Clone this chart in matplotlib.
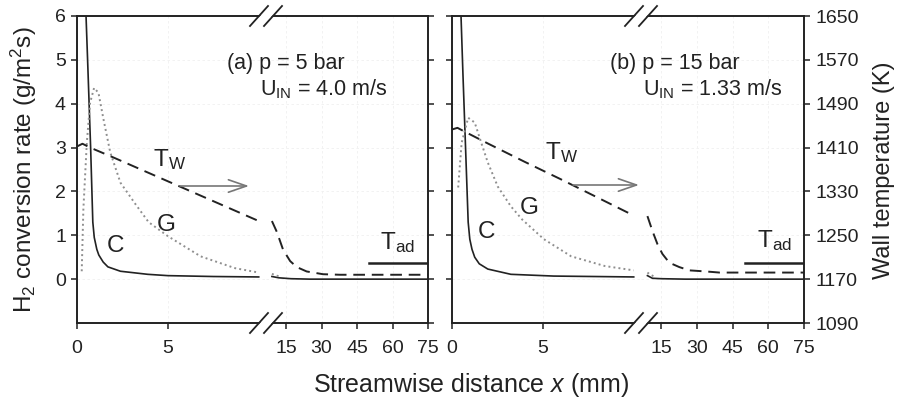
import matplotlib
matplotlib.use("Agg")
import matplotlib.pyplot as plt
from matplotlib.lines import Line2D
from matplotlib.patches import Polygon, FancyArrowPatch

plt.rcParams['font.family'] = ['Liberation Sans', 'DejaVu Sans']
plt.rcParams['mathtext.fontset'] = 'custom'
plt.rcParams['mathtext.rm'] = 'Liberation Sans'
plt.rcParams['mathtext.it'] = 'Liberation Sans:italic'

# ---- data (x in mm, rates in g/m2s, temperatures in K) ----
# panel (a): p = 5 bar
a_c_x = [0.48, 0.6, 0.75, 0.87, 0.95, 1.09, 1.2, 1.44, 1.7, 2.39, 3.89, 5.0, 7.5, 10.0]
a_c_y = [6.2, 4.8, 3.0, 1.3, 0.95, 0.68, 0.55, 0.39, 0.28, 0.18, 0.11, 0.08, 0.06, 0.05]
a_g_x = [0.26, 0.35, 0.54, 0.72, 0.94, 1.18, 1.46, 1.83, 2.39, 3.2, 3.94, 5.0, 6.8, 8.7, 10.0]
a_g_y = [0.18, 1.59, 3.11, 4.02, 4.36, 4.25, 3.64, 2.89, 2.2, 1.72, 1.3, 0.98, 0.52, 0.25, 0.15]
a_tw_x = [0, 0.3, 0.72, 2, 4, 6, 8, 10]
a_tw_y = [1412, 1417, 1410, 1392, 1363, 1334, 1305, 1276]
a_c_far_x = [9.0, 12.0, 17.0, 25.0, 75.0]
a_c_far_y = [0.06, 0.03, 0.01, 0.0, 0.0]
a_g_far_x = [9.0, 11.0, 13.0]
a_g_far_y = [0.12, 0.08, 0.05]
a_tw_far_x = [9.0, 11.1, 13.7, 16.7, 19.5, 23.7, 30.6, 37.8, 75.0]
a_tw_far_y = [1276, 1256, 1224, 1203, 1192, 1184, 1179, 1178, 1178]

# panel (b): p = 15 bar
b_c_x = [0.48, 0.6, 0.75, 0.89, 0.98, 1.1, 1.25, 1.5, 1.97, 3.24, 5.6, 10.0]
b_c_y = [6.2, 4.7, 2.95, 1.3, 0.91, 0.68, 0.5, 0.35, 0.23, 0.11, 0.07, 0.05]
b_g_x = [0.34, 0.53, 0.89, 1.25, 1.61, 1.97, 2.52, 3.24, 3.86, 5.06, 6.56, 8.4, 10.0]
b_g_y = [2.09, 3.11, 3.68, 3.57, 3.11, 2.66, 2.11, 1.66, 1.36, 0.91, 0.52, 0.3, 0.2]
b_tw_x = [0, 0.3, 0.7, 2, 4, 6, 8, 10]
b_tw_y = [1443, 1446, 1439, 1417, 1384, 1352, 1319, 1286]
b_c_far_x = [9.2, 11.3, 15.0, 25.0, 75.0]
b_c_far_y = [0.08, 0.02, 0.01, 0.0, 0.0]
b_g_far_x = [9.2, 10.5, 12.0]
b_g_far_y = [0.15, 0.1, 0.06]
b_tw_far_x = [9.2, 11.3, 13.4, 15.5, 18.4, 22.6, 26.8, 33.9, 39.5, 75.0]
b_tw_far_y = [1285, 1258, 1234, 1216, 1200, 1192, 1186, 1184, 1182, 1182]

t_ad = 1199  # adiabatic temperature, drawn from x = 50 mm on
t_ad_x = [50, 75]

W, H = 902, 407
INK = '#222222'
GREY = '#8f8f8f'

fig = plt.figure(figsize=(W / 100, H / 100), dpi=100)


def rect(x0, x1, y0=16, y1=323):
    return [x0 / W, 1 - y1 / H, (x1 - x0) / W, (y1 - y0) / H]


def fx(px):
    return px / W


def fy(py):
    return 1 - py / H


def style(ax):
    for s in ax.spines.values():
        s.set_color(INK)
        s.set_linewidth(1.4)
    ax.tick_params(direction='out', length=4, width=1.1, color=INK,
                   labelsize=14, labelcolor=INK, pad=8)


def panel(x0, xb, x1, near, far, left_labels, right_labels):
    axl = fig.add_axes(rect(x0, xb))
    axr = fig.add_axes(rect(xb, x1))
    # temperature scale on twins (created first: twinx resets tick sides)
    twl = axl.twinx()
    twr = axr.twinx()

    axl.set_xlim(0, 10.4)
    axr.set_xlim(6.5, 75)
    for ax in (axl, axr):
        ax.set_ylim(-1, 6)
        ax.set_facecolor('none')
        style(ax)
        ax.grid(True, color='#f0f0f0', lw=0.6, ls=(0, (3, 3)))
    axl.spines['right'].set_visible(False)
    axr.spines['left'].set_visible(False)
    axl.set_xticks([0, 5])
    axr.set_xticks([15, 30, 45, 60, 75])
    axl.set_yticks(range(0, 7))
    axl.tick_params(axis='y', pad=4, left=True, right=False,
                    labelleft=left_labels)
    axr.set_yticks(range(0, 7))
    axr.tick_params(axis='y', left=False, right=False,
                    labelleft=False, labelright=False)

    for tw in (twl, twr):
        tw.set_ylim(1090, 1650)
        for s in tw.spines.values():
            s.set_visible(False)
    twl.tick_params(axis='y', left=False, right=False,
                    labelleft=False, labelright=False)
    twr.set_yticks(range(1090, 1651, 80))
    style(twr)
    for s in twr.spines.values():
        s.set_visible(False)
    twr.tick_params(axis='y', pad=4, left=False, right=True,
                    labelleft=False, labelright=right_labels)

    (cx, cy, gx, gy, tx, ty) = near
    axl.plot(cx, cy, color=INK, lw=1.2)
    axl.plot(gx, gy, color=GREY, lw=1.4, ls=(0, (1, 1.6)))
    twl.plot(tx, ty, color=INK, lw=1.4, ls=(0, (6, 3.5)))
    (cx, cy, gx, gy, tx, ty) = far
    axr.plot(cx, cy, color=INK, lw=1.2)
    axr.plot(gx, gy, color=GREY, lw=1.4, ls=(0, (1, 1.6)))
    twr.plot(tx, ty, color=INK, lw=1.4, ls=(0, (6, 3.5)))
    twr.plot(t_ad_x, [t_ad, t_ad], color=INK, lw=1.8)
    return axl, axr


panel(77, 266, 428,
      (a_c_x, a_c_y, a_g_x, a_g_y, a_tw_x, a_tw_y),
      (a_c_far_x, a_c_far_y, a_g_far_x, a_g_far_y, a_tw_far_x, a_tw_far_y),
      True, False)
panel(452, 641, 804,
      (b_c_x, b_c_y, b_g_x, b_g_y, b_tw_x, b_tw_y),
      (b_c_far_x, b_c_far_y, b_g_far_x, b_g_far_y, b_tw_far_x, b_tw_far_y),
      False, True)

# axis break marks
for xb in (266, 641):
    for yb in (16, 323):
        gap = Polygon([(fx(xb - 9), fy(yb + 3)), (fx(xb + 3), fy(yb + 3)),
                       (fx(xb + 9), fy(yb - 3)), (fx(xb - 3), fy(yb - 3))],
                      closed=True, facecolor='white', edgecolor='none',
                      transform=fig.transFigure, zorder=5)
        fig.add_artist(gap)
        for dx in (-7, 7):
            fig.add_artist(Line2D([fx(xb + dx - 9), fx(xb + dx + 9)],
                                  [fy(yb + 10), fy(yb - 10)],
                                  color=INK, lw=1.3, zorder=6))

# annotations
txt = dict(color=INK, fontsize=15.5, va='center', ha='left')
fig.text(fx(227), fy(63), '(a) p = 5 bar', **txt)
fig.text(fx(260), fy(89), r'U$_{\rm IN}$ = 4.0 m/s', **txt)
fig.text(fx(610), fy(63), '(b) p = 15 bar', **txt)
fig.text(fx(643), fy(89), r'U$_{\rm IN}$ = 1.33 m/s', **txt)

lab = dict(color=INK, fontsize=17.5, va='center', ha='left')
fig.text(fx(153), fy(160), r'T$_{\rm W}$', **lab)
fig.text(fx(107), fy(246), 'C', **lab)
fig.text(fx(157), fy(225), 'G', **lab)
fig.text(fx(380), fy(243), r'T$_{\rm ad}$', **lab)
fig.text(fx(545), fy(153), r'T$_{\rm W}$', **lab)
fig.text(fx(478), fy(232), 'C', **lab)
fig.text(fx(520), fy(208), 'G', **lab)
fig.text(fx(757), fy(241), r'T$_{\rm ad}$', **lab)

arrow = dict(arrowstyle='->,head_length=1.3,head_width=0.45', color='#777777',
             lw=1.2, mutation_scale=10, shrinkA=0, shrinkB=0)
fig.add_artist(FancyArrowPatch((fx(180), fy(186)), (fx(249), fy(186)),
                               transform=fig.transFigure, **arrow))
fig.add_artist(FancyArrowPatch((fx(573), fy(185)), (fx(639), fy(185)),
                               transform=fig.transFigure, **arrow))

# axis titles
fig.text(fx(24), fy(170), r'H$_2$ conversion rate (g/m$^2$s)', rotation=90,
         fontsize=17.5, color=INK, ha='center', va='center')
fig.text(fx(884), fy(170), 'Wall temperature (K)', rotation=90,
         fontsize=17, color=INK, ha='center', va='center')
fig.text(fx(471), fy(385), r'Streamwise distance $x$ (mm)',
         fontsize=18, color=INK, ha='center', va='center')

fig.savefig('out.png', dpi=100)
